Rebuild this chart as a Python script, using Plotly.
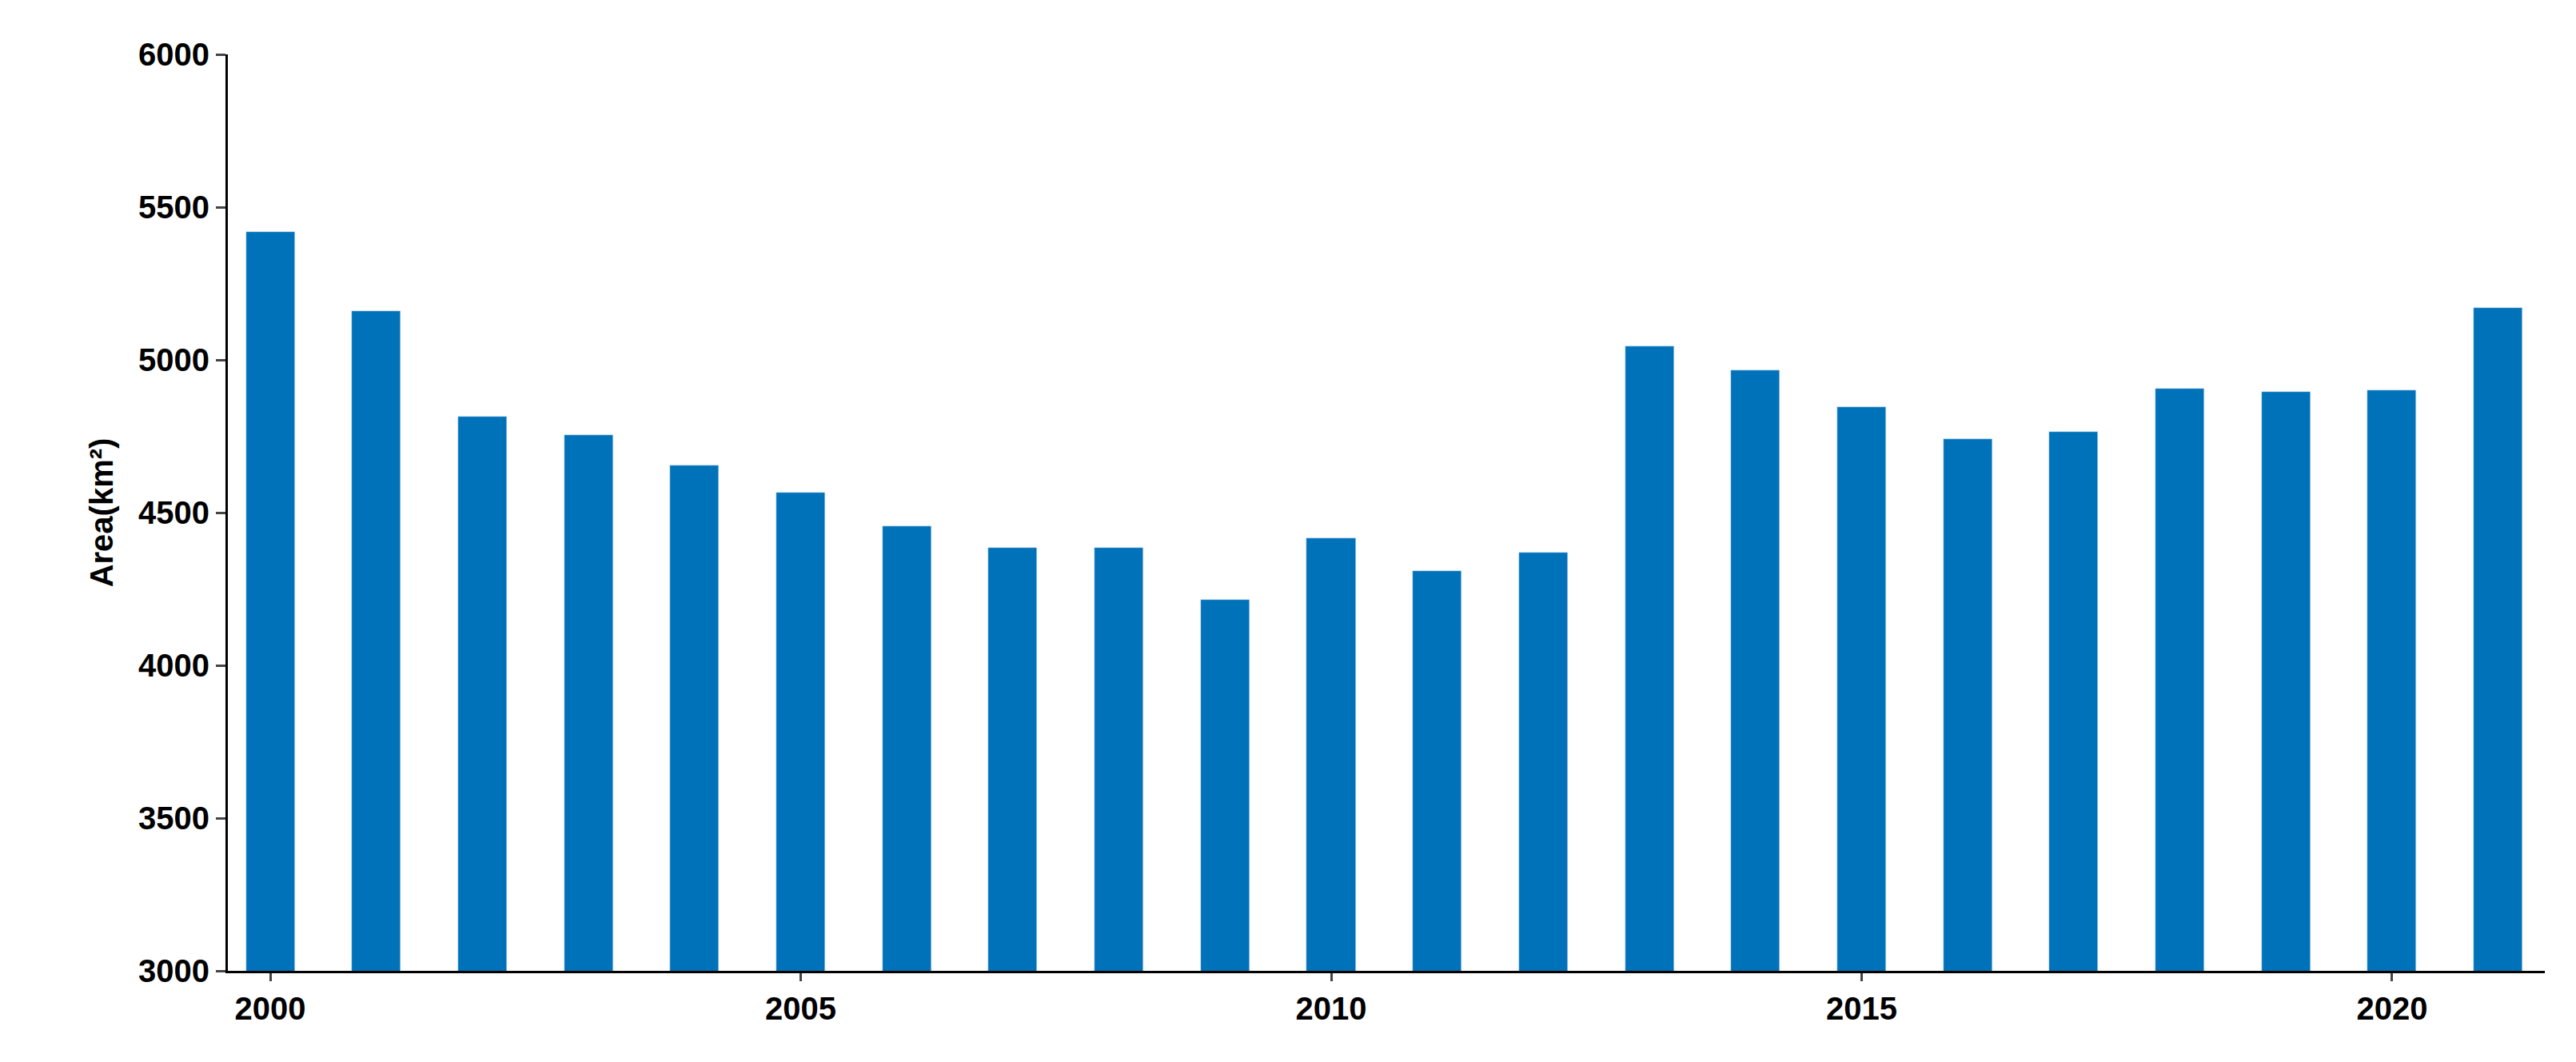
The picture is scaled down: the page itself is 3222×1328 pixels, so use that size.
import plotly.graph_objects as go

years = list(range(2000, 2022))
area = [5420, 5160, 4815, 4755, 4655, 4565, 4455, 4385, 4385, 4215, 4415, 4310,
        4370, 5045, 4965, 4845, 4740, 4765, 4905, 4895, 4900, 5170]
xticks = [2000, 2005, 2010, 2015, 2020]
yticks = [3000, 3500, 4000, 4500, 5000, 5500, 6000]

font = dict(family="Liberation Sans, Arial", size=40, color="black")
fig = go.Figure(go.Bar(x=years, y=area, width=0.46, marker_color="#0072BA"))
fig.update_layout(
    width=3222, height=1328, plot_bgcolor="white", paper_bgcolor="white",
    margin=dict(l=277, r=47, t=60, b=122), showlegend=False,
    font=font, bargap=0,
)
fig.update_xaxes(range=[1999.6, 2021.44], tickvals=xticks,
                 ticktext=[f"<b>{t}</b>" for t in xticks],
                 showline=True, linecolor="black", linewidth=3,
                 ticks="outside", ticklen=10, tickwidth=3, showgrid=False)
fig.update_yaxes(range=[3000, 6000], tickvals=yticks,
                 ticktext=[f"<b>{t}</b>" for t in yticks],
                 showline=True, linecolor="black", linewidth=3,
                 ticks="outside", ticklen=12, tickwidth=3, showgrid=False,
                 title=dict(text="<b>Area(km²)</b>", font=font, standoff=20))
fig.write_html("out.html")
